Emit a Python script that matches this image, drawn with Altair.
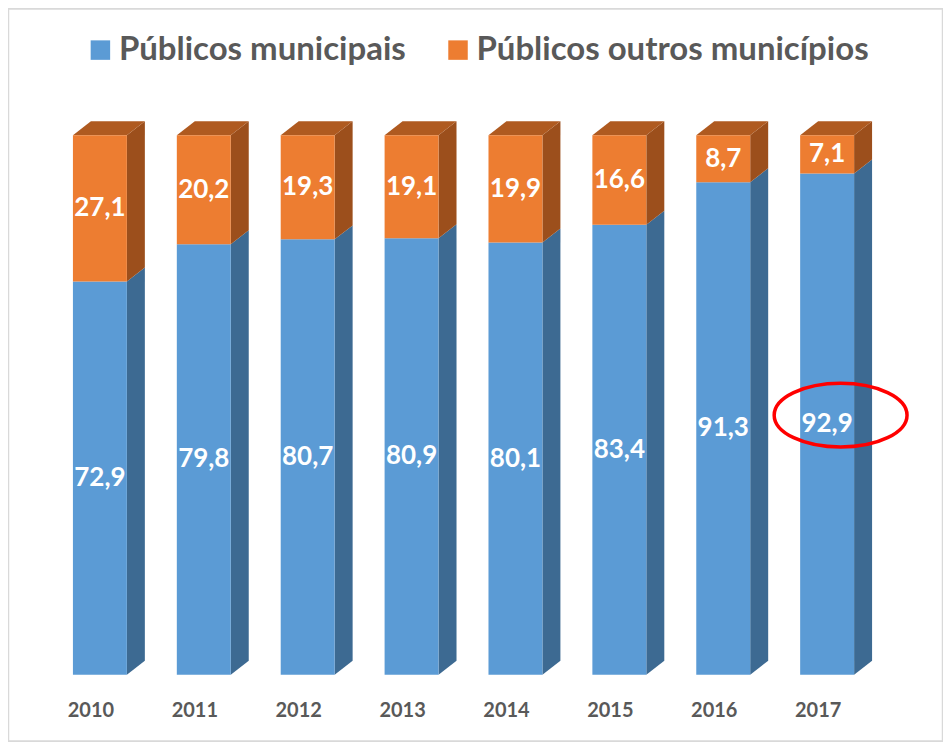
import altair as alt
import pandas as pd

# ---- data ----
years = [2010, 2011, 2012, 2013, 2014, 2015, 2016, 2017]
municipais = [72.9, 79.8, 80.7, 80.9, 80.1, 83.4, 91.3, 92.9]
outros = [27.1, 20.2, 19.3, 19.1, 19.9, 16.6, 8.7, 7.1]
series_names = ["Públicos municipais", "Públicos outros municípios"]
front_colors = ["#5B9BD5", "#ED7D31"]
side_colors = ["#3D6A92", "#9C4F1C"]
top_color = "#AF5A20"
highlight_year = 2017

# ---- layout constants (pixels) ----
PLOT_W, PLOT_H = 936, 734
ORIGIN = 8
X_FIRST, X_STEP = 100.0, 104.0      # page x of first bar centre, spacing
Y_ZERO, Y_PER = 675.0, 5.4          # page y of value 0, px per unit
HALF_W = 27.0 / X_STEP
DX = 18.0 / X_STEP
DY = 14.0 / Y_PER

x_dom = [(ORIGIN - X_FIRST) / X_STEP, (ORIGIN + PLOT_W - X_FIRST) / X_STEP]
y_dom = [(Y_ZERO - (ORIGIN + PLOT_H)) / Y_PER, (Y_ZERO - ORIGIN) / Y_PER]

xs = alt.Scale(domain=x_dom, nice=False, zero=False)
ys = alt.Scale(domain=y_dom, nice=False, zero=False)

def fmt(v):
    return f"{v:.1f}".replace(".", ",")

front, side, top, labels = [], [], [], []
for i, y in enumerate(years):
    lo = 0.0
    for s, vals in enumerate([municipais, outros]):
        v = vals[i]
        hi = lo + v
        key = f"{y}-{s}"
        front.append(dict(x=i - HALF_W, x2=i + HALF_W, y=lo, y2=hi,
                          serie=series_names[s]))
        side.append(dict(k=key, x=i + HALF_W, ylo=lo, yhi=hi, c=side_colors[s]))
        side.append(dict(k=key, x=i + HALF_W + DX, ylo=lo + DY, yhi=hi + DY, c=side_colors[s]))
        labels.append(dict(x=i, y=(lo + hi) / 2, t=fmt(v)))
        lo = hi
    top.append(dict(k=str(y), y=lo, xl=i - HALF_W, xr=i + HALF_W))
    top.append(dict(k=str(y), y=lo + DY, xl=i - HALF_W + DX, xr=i + HALF_W + DX))

front_df = pd.DataFrame(front)
side_df = pd.DataFrame(side)
top_df = pd.DataFrame(top)
label_df = pd.DataFrame(labels)
year_df = pd.DataFrame(dict(x=[i - 9.0 / X_STEP for i in range(len(years))],
                            y=[(Y_ZERO - 711) / Y_PER] * len(years),
                            t=[str(y) for y in years]))
hi_idx = years.index(highlight_year)
ell_df = pd.DataFrame(dict(x=[hi_idx + 13.5 / X_STEP],
                           y=[municipais[hi_idx] / 2 + 9.0 / Y_PER]))

front_layer = alt.Chart(front_df).mark_rect().encode(
    x=alt.X("x:Q", scale=xs, axis=None),
    x2="x2:Q",
    y=alt.Y("y:Q", scale=ys, axis=None),
    y2="y2:Q",
    color=alt.Color("serie:N",
                    scale=alt.Scale(domain=series_names, range=front_colors),
                    legend=alt.Legend(title=None, orient="none", legendX=76, legendY=25,
                                      direction="horizontal", symbolType="square",
                                      symbolSize=380, symbolStrokeWidth=0,
                                      labelFont="Lato", labelFontWeight="bold",
                                      labelFontSize=33, labelColor="#595959",
                                      labelOffset=2, columnPadding=35,
                                      labelLimit=1000)),
)

side_layer = alt.Chart(side_df).mark_area(orient="vertical").encode(
    x=alt.X("x:Q", scale=xs, axis=None),
    y=alt.Y("ylo:Q", scale=ys, axis=None),
    y2="yhi:Q",
    detail="k:N",
    color=alt.Color("c:N", scale=None),
)

top_layer = alt.Chart(top_df).mark_area(orient="horizontal", color=top_color).encode(
    y=alt.Y("y:Q", scale=ys, axis=None),
    x=alt.X("xl:Q", scale=xs, axis=None),
    x2="xr:Q",
    detail="k:N",
)

label_layer = alt.Chart(label_df).mark_text(
    font="Lato", fontWeight="bold", fontSize=26, color="white", baseline="middle"
).encode(
    x=alt.X("x:Q", scale=xs, axis=None),
    y=alt.Y("y:Q", scale=ys, axis=None),
    text="t:N",
)

year_layer = alt.Chart(year_df).mark_text(
    font="Lato", fontWeight="bold", fontSize=20, color="#595959", baseline="middle"
).encode(
    x=alt.X("x:Q", scale=xs, axis=None),
    y=alt.Y("y:Q", scale=ys, axis=None),
    text="t:N",
)

ellipse_path = "M -1 0 A 1 0.48 0 1 1 1 0 A 1 0.48 0 1 1 -1 0 Z"
ell_layer = alt.Chart(ell_df).mark_point(
    shape=ellipse_path, size=133 * 133, filled=False, stroke="#FF0000",
    strokeWidth=3.5, opacity=1
).encode(
    x=alt.X("x:Q", scale=xs, axis=None),
    y=alt.Y("y:Q", scale=ys, axis=None),
)

chart = alt.layer(
    side_layer, top_layer, front_layer, label_layer, year_layer, ell_layer
).properties(
    width=PLOT_W, height=PLOT_H, padding=0, background="white"
).configure_view(
    stroke="#D9D9D9", strokeWidth=2.5
)

chart.save("out.html", embed_options={"renderer": "svg", "actions": False})
